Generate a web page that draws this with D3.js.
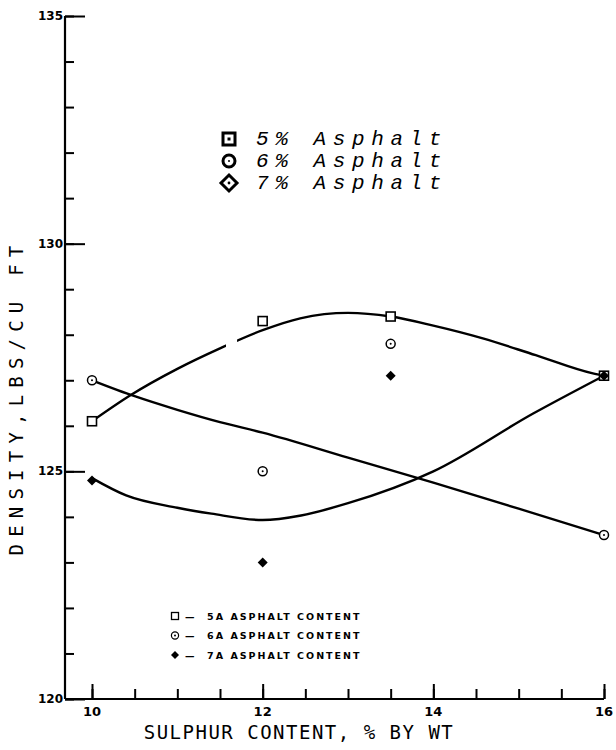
<!DOCTYPE html>
<html><head><meta charset="utf-8">
<script src="https://cdn.jsdelivr.net/npm/d3@7"></script>
<style>body{margin:0;background:#fff;} svg{display:block;}</style>
</head><body>
<svg id="chart" width="616" height="750"></svg>
<script>
// Measured densities (lbs/cu ft) against sulphur content (% by wt)
const sulphur = [10, 12, 13.5, 16];
const density5 = [126.1, 128.3, 128.4, 127.1];
const density6 = [127.0, 125.0, 127.8, 123.6];
const density7 = [124.8, 123.0, 127.1, 127.1];

// Hand-faired trend curves (sulphur %, density)
const fit5 = [[10,126.1],[10.45,126.67],[11,127.25],[11.5,127.7],[12,128.1],[12.44,128.36],[13,128.48],[13.5,128.4],[14,128.2],[14.58,127.92],[15.2,127.55],[15.87,127.15],[16,127.1]];
const fit6 = [[10,127.0],[10.5,126.65],[11,126.35],[11.5,126.08],[12,125.85],[13,125.3],[14,124.75],[15,124.18],[16,123.6]];
const fit7 = [[10,124.85],[10.4,124.47],[11,124.2],[11.4,124.07],[12,123.93],[12.45,124.03],[13,124.3],[14,125.0],[15.17,126.27],[16,127.1]];

const xLabels = [10, 12, 14, 16];
const yLabels = [120, 125, 130, 135];
const legendTop = ["5% Asphalt", "6% Asphalt", "7% Asphalt"];
const legendBottom = ["— 5A ASPHALT CONTENT", "— 6A ASPHALT CONTENT", "— 7A ASPHALT CONTENT"];

const svg = d3.select("#chart");
const x = d3.scaleLinear().domain([10, 16]).range([92, 604]);
const y = d3.scaleLinear().domain([120, 135]).range([699, 16]);
const axisX0 = x.invert(65);

// Axes frame
svg.append("line").attr("x1", x(axisX0)).attr("x2", x(axisX0)).attr("y1", y(135)).attr("y2", y(120))
  .attr("stroke", "#000").attr("stroke-width", 2.2);
svg.append("line").attr("x1", x(axisX0)).attr("x2", x(16)).attr("y1", y(120)).attr("y2", y(120))
  .attr("stroke", "#000").attr("stroke-width", 2.2);

// Y ticks (pointing inward)
const yMinor = svg.append("g").attr("transform", `translate(${x(axisX0)},0)`)
  .call(d3.axisRight(y).tickValues(d3.range(120, 136)).tickSize(9).tickFormat(""));
const yMajor = svg.append("g").attr("transform", `translate(${x(axisX0)},0)`)
  .call(d3.axisRight(y).tickValues(yLabels).tickSize(20).tickFormat(""));
// X ticks (pointing upward)
const xMinor = svg.append("g").attr("transform", `translate(0,${y(120)})`)
  .call(d3.axisTop(x).tickValues(d3.range(10, 16.01, 0.5)).tickSize(10).tickFormat(""));
const xMajor = svg.append("g").attr("transform", `translate(0,${y(120)})`)
  .call(d3.axisTop(x).tickValues(xLabels).tickSize(15).tickFormat(""));
[yMinor, yMajor, xMinor, xMajor].forEach(g => {
  g.select(".domain").remove();
  g.selectAll(".tick line").attr("stroke", "#000").attr("stroke-width", 2);
});

// Tick labels
svg.append("g").selectAll("text").data(yLabels).join("text")
  .attr("x", x(axisX0) - 2).attr("y", d => y(d) + 4)
  .attr("text-anchor", "end")
  .style("font-family", "'DejaVu Sans'").style("font-weight", "bold").style("font-size", "12px")
  .text(d => d);
svg.append("g").selectAll("text").data(xLabels).join("text")
  .attr("x", d => x(d)).attr("y", y(120) + 17)
  .attr("text-anchor", "middle")
  .style("font-family", "'DejaVu Sans'").style("font-weight", "bold").style("font-size", "13px")
  .text(d => d);

// Axis titles
svg.append("text").attr("x", 299).attr("y", 739).attr("text-anchor", "middle")
  .style("font-family", "'DejaVu Sans Mono'").style("font-size", "19px").style("letter-spacing", "1.5px")
  .text("SULPHUR CONTENT, % BY WT");
svg.append("text").attr("transform", "translate(23,397) rotate(-90)").attr("text-anchor", "middle")
  .style("font-family", "'DejaVu Sans Mono'").style("font-size", "19px").style("letter-spacing", "7.2px")
  .text("DENSITY,LBS/CU FT");

// Trend curves
const line = d3.line().x(d => x(d[0])).y(d => y(d[1])).curve(d3.curveMonotoneX);
const clip = svg.append("clipPath").attr("id", "gap5");
clip.append("rect").attr("x", 0).attr("y", 0).attr("width", x(11.57)).attr("height", 750);
clip.append("rect").attr("x", x(11.7)).attr("y", 0).attr("width", 616 - x(11.7)).attr("height", 750);
svg.append("path").datum(fit5).attr("d", line).attr("clip-path", "url(#gap5)")
  .attr("fill", "none").attr("stroke", "#000").attr("stroke-width", 2.4);
svg.append("path").datum(fit6).attr("d", line)
  .attr("fill", "none").attr("stroke", "#000").attr("stroke-width", 2.4);
svg.append("path").datum(fit7).attr("d", line)
  .attr("fill", "none").attr("stroke", "#000").attr("stroke-width", 2.4);

// Marker drawing helpers
function square(g, cx, cy, s, sw) {
  g.append("rect").attr("x", cx - s / 2).attr("y", cy - s / 2).attr("width", s).attr("height", s)
    .attr("fill", "#fff").attr("stroke", "#000").attr("stroke-width", sw);
}
function ring(g, cx, cy, r, sw) {
  g.append("circle").attr("cx", cx).attr("cy", cy).attr("r", r)
    .attr("fill", "#fff").attr("stroke", "#000").attr("stroke-width", sw);
  g.append("circle").attr("cx", cx).attr("cy", cy).attr("r", 1).attr("fill", "#000");
}
function diamond(g, cx, cy, r) {
  g.append("path").attr("d", `M${cx},${cy - r}L${cx + r},${cy}L${cx},${cy + r}L${cx - r},${cy}Z`)
    .attr("fill", "#000");
}

// Data points
const pts = svg.append("g");
sulphur.forEach((s, i) => {
  square(pts, x(s), y(density5[i]), 9, 1.6);
  ring(pts, x(s), y(density6[i]), 4.5, 1.5);
  diamond(pts, x(s), y(density7[i]), 5);
});

// Upper legend
const lt = svg.append("g");
legendTop.forEach((t, i) => {
  const cy = 139 + i * 22;
  if (i === 0) { square(lt, 229, cy, 12, 3); lt.append("rect").attr("x", 227.5).attr("y", cy - 1.5).attr("width", 3).attr("height", 3); }
  if (i === 1) { ring(lt, 229, cy, 6, 3); }
  if (i === 2) {
    lt.append("path").attr("d", `M229,${cy - 8}L237,${cy}L229,${cy + 8}L221,${cy}Z`)
      .attr("fill", "#fff").attr("stroke", "#000").attr("stroke-width", 3);
    lt.append("circle").attr("cx", 229).attr("cy", cy).attr("r", 1.4);
  }
  lt.append("text").attr("x", 256).attr("y", cy + 6)
    .style("font-family", "'Liberation Mono'").style("font-style", "italic").style("font-size", "21px")
    .style("letter-spacing", "6.6px")
    .text(t);
});

// Lower legend
const lb = svg.append("g");
legendBottom.forEach((t, i) => {
  const cy = 616 + i * 19.5;
  if (i === 0) { square(lb, 175, cy, 7, 1.3); }
  if (i === 1) { ring(lb, 175, cy, 3.6, 1.2); }
  if (i === 2) { diamond(lb, 175, cy, 4); }
  lb.append("text").attr("x", 185).attr("y", cy + 3.5)
    .style("font-family", "'DejaVu Sans'").style("font-weight", "bold").style("font-size", "9.5px")
    .style("letter-spacing", "2px").attr("xml:space", "preserve")
    .text(t.replace("— ", "—  "));
});
</script>
</body></html>
